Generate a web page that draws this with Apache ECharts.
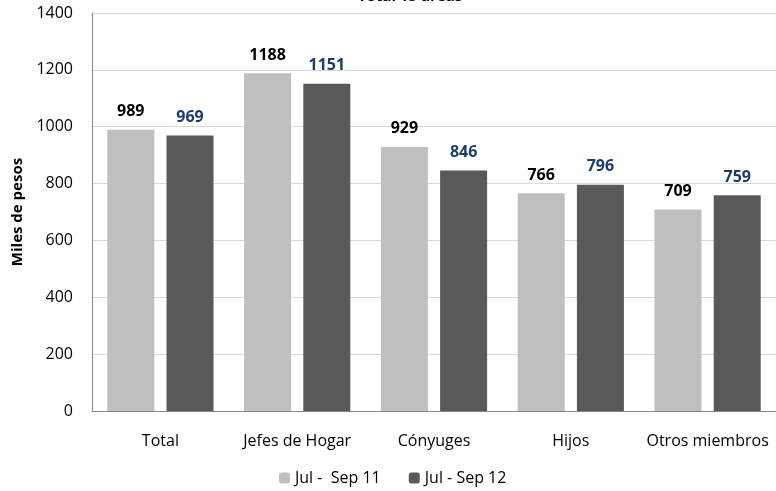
<!DOCTYPE html>
<html>
<head>
<meta charset="utf-8">
<script src="https://cdn.jsdelivr.net/npm/echarts@6/dist/echarts.min.js"></script>
<style>
  html, body { margin: 0; padding: 0; background: #fff; }
  #main { width: 776px; height: 491px; }
</style>
</head>
<body>
<div id="main"></div>
<script>
// data
var categories = ['Total', 'Jefes de Hogar', 'Cónyuges', 'Hijos', 'Otros miembros'];
var serie2011 = [989, 1188, 929, 766, 709];
var serie2012 = [969, 1151, 846, 796, 759];
var seriesNames = ['Jul -  Sep 11', 'Jul - Sep 12'];

var myChart = echarts.init(document.getElementById('main'));

var font = '"Open Sans", sans-serif';

var option = {
    animation: false,
    textStyle: { fontFamily: font },
    title: {
        text: 'Total 13 áreas',
        left: 405,
        textAlign: 'center',
        top: -16,
        textStyle: { fontSize: 15, fontWeight: 'bold', color: '#000', fontFamily: font }
    },
    legend: {
        bottom: 0,
        left: 274,
        itemWidth: 11,
        itemHeight: 11,
        itemGap: 28,
        textStyle: { fontSize: 16, color: '#000', fontFamily: font },
        data: seriesNames
    },
    grid: {
        left: 92,
        top: 13,
        width: 692,
        height: 398
    },
    xAxis: {
        type: 'category',
        data: categories,
        axisTick: { show: false },
        axisLine: { lineStyle: { color: '#868686' } },
        axisLabel: { color: '#000', fontSize: 16, margin: 22, fontFamily: font, interval: 0 }
    },
    yAxis: {
        type: 'value',
        min: 0,
        max: 1400,
        interval: 200,
        name: 'Miles de pesos',
        nameLocation: 'middle',
        nameGap: 66,
        nameTextStyle: { fontSize: 15, fontWeight: 'bold', color: '#000', fontFamily: font },
        axisLine: { show: true, lineStyle: { color: '#868686' } },
        axisTick: { show: false },
        axisLabel: {
            color: '#000', fontSize: 16, margin: 19, fontFamily: font,
            formatter: function (v) { return String(v); }
        },
        splitLine: { lineStyle: { color: '#d9d9d9' } }
    },
    series: [
        {
            name: seriesNames[0],
            type: 'bar',
            data: serie2011,
            barWidth: 47,
            barGap: '26%',
            itemStyle: { color: '#bfbfbf' },
            label: {
                show: true,
                position: 'top',
                distance: 10,
                fontSize: 16,
                fontWeight: 'bold',
                color: '#000',
                fontFamily: font
            }
        },
        {
            name: seriesNames[1],
            type: 'bar',
            data: serie2012,
            barWidth: 47,
            itemStyle: { color: '#595959' },
            label: {
                show: true,
                position: 'top',
                distance: 10,
                fontSize: 16,
                fontWeight: 'bold',
                color: '#1f3b6b',
                fontFamily: font
            }
        }
    ]
};
myChart.setOption(option);
</script>
</body>
</html>
